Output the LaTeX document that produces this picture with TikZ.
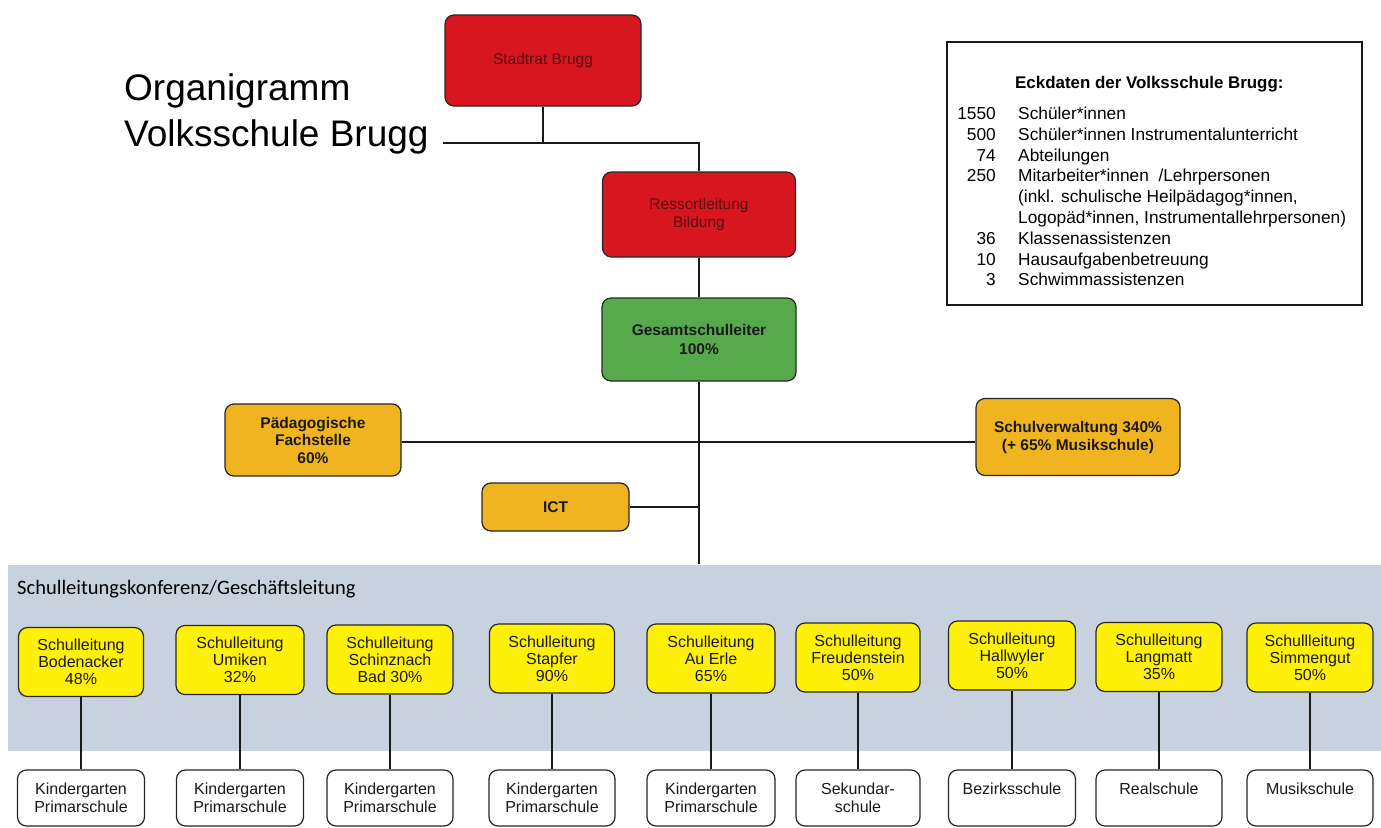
\documentclass[tikz,border=0pt]{standalone}
\usepackage{fontspec}
\setmainfont{Liberation Sans}
\newfontfamily\carlito{Carlito}
\definecolor{cRed}{RGB}{216,22,32}
\definecolor{cRedText}{RGB}{90,12,12}
\definecolor{cGreen}{RGB}{86,170,76}
\definecolor{cOrange}{RGB}{240,180,32}
\definecolor{cYellow}{RGB}{255,240,10}
\definecolor{cBand}{RGB}{200,210,222}
\tikzset{
  box/.style={draw=black!85, line width=1.2pt, rounded corners=9pt, align=center, inner sep=0pt},
  redbox/.style={box, fill=cRed, text=cRedText, font=\fontsize{15.5}{18}\selectfont},
  greenbox/.style={box, fill=cGreen, text=black!90, font=\bfseries\fontsize{15.5}{19}\selectfont},
  orangebox/.style={box, fill=cOrange, text=black!90, font=\bfseries\fontsize{15.5}{17.5}\selectfont},
  ybox/.style={box, fill=cYellow, text=black!90, font=\fontsize{16}{17}\selectfont, minimum height=69pt},
  wbox/.style={box, fill=white, text=black!90, font=\fontsize{16}{18}\selectfont, minimum height=56pt},
  conn/.style={draw=black!90, line width=1.3pt},
  infotxt/.style={inner sep=0pt, font=\fontsize{17.3}{20}\selectfont},
}
\begin{document}
\begin{tikzpicture}[x=1pt,y=-1pt]
\useasboundingbox (0,0) rectangle (1381,827);
% band
\fill[cBand] (8,565) rectangle (1381,751);
\node[anchor=base west, inner sep=0pt, font=\carlito\fontsize{20.5}{22}\selectfont] (bandlabel) at (17,594) {Schulleitungskonferenz/Geschäftsleitung};
% title
\node[anchor=base west, inner sep=0pt, font=\fontsize{37}{45}\selectfont] (title1) at (124,100) {Organigramm};
\node[anchor=base west, inner sep=0pt, font=\fontsize{37}{45}\selectfont] (title2) at (124,146) {Volksschule Brugg};
% top boxes
\node[redbox, minimum width=196pt, minimum height=91pt] (stadtrat) at (543,60.5) {Stadtrat Brugg};
\node[redbox, minimum width=193pt, minimum height=85pt] (ressort) at (699,214.5) {Ressortleitung\\Bildung};
\node[greenbox, minimum width=194pt, minimum height=83pt] (gesamt) at (699,339.5) {Gesamtschulleiter\\100\%};
\node[orangebox, minimum width=176pt, minimum height=72pt] (paed) at (313,440) {Pädagogische\\Fachstelle\\60\%};
\node[orangebox, minimum width=204pt, minimum height=77pt, font=\bfseries\fontsize{15.5}{18}\selectfont] (verw) at (1078,437) {Schulverwaltung 340\%\\(+ 65\% Musikschule)};
\node[orangebox, minimum width=147pt, minimum height=48pt] (ict) at (555.5,507) {ICT};
% info box
\node[draw=black!90, line width=1.1pt, minimum width=415pt, minimum height=263pt, inner sep=0pt] (info) at (1154.5,173.5) {};
\node[anchor=base west, inner sep=0pt, font=\bfseries\fontsize{16.9}{20}\selectfont] (infotitle) at (1015,88) {Eckdaten der Volksschule Brugg:};
\foreach \n/\t/\y [count=\i] in {{1550}/{Schüler*innen}/119.5, {500}/{Schüler*innen Instrumentalunterricht}/140.3, {74}/{Abteilungen}/161.1, {250}/{Mitarbeiter*innen \ /Lehrpersonen}/181.9, {}/{(inkl. schulische Heilpädagog*innen,}/202.7, {}/{Logopäd*innen, Instrumentallehrpersonen)}/223.5, {36}/{Klassenassistenzen}/244.3, {10}/{Hausaufgabenbetreuung}/265.1, {3}/{Schwimmassistenzen}/285.9}{
  \node[infotxt, anchor=base east] (num\i) at (996,\y) {\n};
  \node[infotxt, anchor=base west] (txt\i) at (1018,\y) {\t};
}
% connectors top
\coordinate (tl) at (443,143);
\coordinate (tr) at (699,143);
\draw[conn] (stadtrat.south) -- (stadtrat.south |- tl);
\draw[conn] (tl) -- (tr) -- (tr |- ressort.north);
\draw[conn] (ressort.south) -- (ressort.south |- gesamt.north);
\coordinate (bandtop) at (699,564);
\draw[conn] (gesamt.south) -- (bandtop);
\draw[conn] (paed.east |- 0,442) -- (verw.west |- 0,442);
\draw[conn] (ict.east) -- (ict.east -| bandtop);
% school boxes
\foreach \nm/\cx/\cy/\w/\wx/\ww/\ytxt/\wtxt in {
  a/81/662/125/81/127/{Schulleitung\\Bodenacker\\48\%}/{Kindergarten\\Primarschule},
  b/240/660/128/240/127/{Schulleitung\\Umiken\\32\%}/{Kindergarten\\Primarschule},
  c/390/659.5/126/390/126/{Schulleitung\\Schinznach\\Bad 30\%}/{Kindergarten\\Primarschule},
  d/552/658.5/125/552/126/{Schulleitung\\Stapfer\\90\%}/{Kindergarten\\Primarschule},
  e/711/658.5/128/711/128/{Schulleitung\\Au Erle\\65\%}/{Kindergarten\\Primarschule},
  f/858/657.5/124/858/124/{Schulleitung\\Freudenstein\\50\%}/{Sekundar-\\schule},
  g/1012/655.5/127/1012/127/{Schulleitung\\Hallwyler\\50\%}/{Bezirksschule\\\phantom{P}},
  h/1159/657/126/1159/126/{Schulleitung\\Langmatt\\35\%}/{Realschule\\\phantom{P}},
  i/1310/657.5/126/1310/126/{Schullleitung\\Simmengut\\50\%}/{Musikschule\\\phantom{P}}}{
  \node[ybox, minimum width=\w pt] (y\nm) at (\cx,\cy) {\ytxt};
  \node[wbox, minimum width=\ww pt] (w\nm) at (\wx,798) {\wtxt};
  \draw[conn] (y\nm.south) -- (y\nm.south |- w\nm.north);
}
\end{tikzpicture}
\end{document}
